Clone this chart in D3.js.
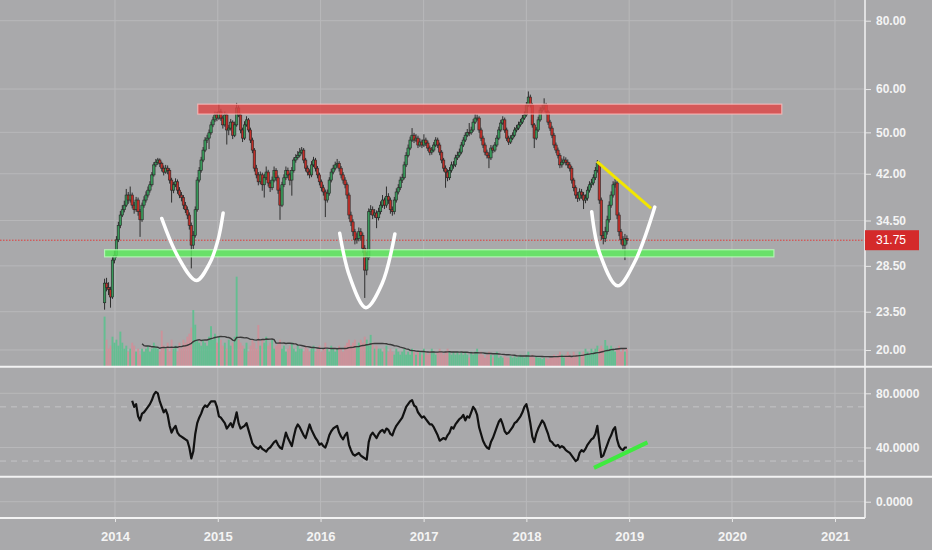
<!DOCTYPE html>
<html>
<head>
<meta charset="utf-8">
<script src="https://cdn.jsdelivr.net/npm/d3@7"></script>
<style>
  body { margin: 0; background: #a9a9ab; }
  svg { display: block; }
  text { font-family: "Liberation Sans", Arial, sans-serif; }
</style>
</head>
<body>
<div id="chart"></div>
<script>
var width = 932, height = 550;

// weekly bars, first one on this monday
var firstWeek = '2013-11-25';
var firstOpen = 24.4;

var closes = [
  26.5, 26.0, 25.8, 25.0, 29.2, 29.8, 31.8, 33.8, 35.3, 36.1,
  36.8, 38.4, 37.6, 38.4, 36.8, 36.1, 37.6, 35.8, 34.6, 36.8,
  37.6, 38.4, 39.2, 40.1, 41.8, 43.6, 44.1, 44.5, 43.9, 43.0,
  42.3, 43.0, 42.6, 40.9, 39.2, 40.1, 40.6, 39.2, 38.4, 38.0,
  36.8, 36.1, 35.3, 33.8, 31.1, 32.4, 36.1, 40.9, 42.6, 44.5,
  46.4, 48.4, 48.8, 49.9, 51.6, 52.7, 53.8, 53.1, 54.5, 53.1,
  51.6, 53.8, 50.5, 50.9, 52.2, 49.4, 51.6, 55.4, 53.8, 50.5,
  48.8, 51.6, 52.7, 50.5, 48.4, 46.4, 43.0, 41.8, 40.6, 41.8,
  40.1, 41.3, 42.3, 40.4, 39.6, 40.9, 42.6, 41.3, 39.2, 36.8,
  40.1, 41.3, 42.6, 41.8, 40.9, 42.6, 44.5, 45.0, 45.4, 46.0,
  46.4, 44.5, 43.0, 42.3, 41.8, 43.6, 44.5, 43.0, 41.8, 40.6,
  39.6, 38.9, 37.6, 38.7, 40.9, 42.3, 43.0, 43.6, 43.9, 43.0,
  41.8, 40.9, 40.1, 38.4, 35.3, 34.3, 32.9, 31.8, 32.0, 32.9,
  32.4, 30.7, 28.0, 29.5, 35.8, 36.1, 35.3, 35.6, 34.9, 35.8,
  36.8, 37.6, 36.8, 38.2, 37.6, 36.1, 35.8, 37.6, 38.9, 39.6,
  40.9, 41.3, 43.6, 45.4, 46.8, 48.4, 49.4, 48.4, 48.8, 47.4,
  48.0, 47.4, 48.4, 47.8, 46.8, 46.0, 46.4, 47.4, 48.4, 47.4,
  46.0, 44.5, 43.0, 42.3, 41.3, 42.6, 43.6, 43.6, 44.9, 45.4,
  46.0, 47.4, 48.4, 49.4, 50.0, 49.9, 50.5, 52.2, 53.1, 53.1,
  50.5, 48.8, 47.4, 46.0, 45.4, 44.9, 46.8, 46.4, 47.4, 48.8,
  50.5, 52.0, 52.7, 50.5, 48.8, 48.0, 48.8, 49.4, 50.5, 50.9,
  51.6, 52.2, 53.1, 53.8, 56.1, 58.0, 56.1, 51.6, 48.8, 50.5,
  52.7, 54.9, 55.4, 56.1, 54.5, 52.2, 50.9, 49.4, 47.4, 46.4,
  45.4, 43.6, 44.1, 44.5, 44.1, 43.6, 43.0, 40.9, 39.6, 38.4,
  37.9, 38.9, 38.4, 37.6, 37.9, 39.2, 40.1, 40.4, 41.3, 42.6,
  43.9, 37.6, 32.4, 32.0, 32.9, 34.6, 36.8, 38.4, 40.1, 40.4,
  35.3, 32.9, 31.8, 31.1, 32.0, 31.75
];

var highs = [
  27.0, 27.1, 26.6, 26.1, 29.6, 30.4, 32.3, 34.3, 35.9, 36.8,
  37.5, 39.4, 38.9, 39.8, 38.8, 37.3, 38.1, 38.0, 36.2, 37.2,
  38.2, 39.0, 39.8, 40.7, 42.3, 44.1, 44.7, 44.9, 44.8, 44.2,
  43.5, 43.6, 43.5, 43.0, 41.3, 40.6, 41.2, 41.0, 39.7, 38.9,
  38.4, 37.3, 36.6, 35.7, 34.2, 33.0, 36.6, 41.4, 43.2, 45.1,
  47.0, 49.0, 49.5, 50.6, 52.3, 53.4, 54.6, 54.5, 56.3, 55.2,
  53.6, 54.6, 54.2, 51.6, 52.9, 52.6, 52.3, 56.6, 56.0, 54.2,
  51.0, 52.4, 53.5, 53.1, 51.0, 48.9, 46.8, 43.6, 42.3, 42.4,
  42.2, 42.0, 43.3, 42.7, 40.9, 41.5, 43.3, 43.0, 41.7, 39.6,
  40.6, 41.9, 43.3, 43.1, 42.2, 43.2, 45.0, 45.6, 46.2, 46.8,
  47.0, 46.8, 44.9, 43.5, 42.8, 44.3, 45.1, 44.9, 43.4, 42.2,
  41.0, 40.1, 39.3, 39.3, 41.4, 42.9, 43.6, 44.2, 44.7, 44.3,
  43.4, 42.3, 41.4, 40.5, 38.8, 35.8, 34.7, 33.3, 32.7, 33.5,
  33.4, 32.8, 31.1, 30.2, 36.3, 36.8, 36.6, 36.2, 36.0, 36.4,
  37.4, 38.4, 38.0, 39.8, 38.7, 38.0, 36.6, 38.1, 39.5, 40.2,
  41.5, 42.0, 44.2, 46.0, 47.5, 49.1, 50.9, 49.9, 49.6, 49.3,
  48.7, 48.5, 49.6, 48.9, 48.3, 47.3, 47.0, 48.0, 49.0, 48.9,
  47.9, 46.4, 44.9, 43.5, 42.8, 43.2, 44.2, 44.3, 45.5, 46.1,
  46.7, 48.0, 49.0, 50.0, 50.7, 52.0, 51.2, 52.9, 54.0, 53.9,
  53.5, 51.0, 49.3, 47.9, 46.5, 45.9, 47.4, 47.3, 48.0, 49.4,
  51.2, 52.7, 53.5, 53.2, 51.0, 49.3, 49.4, 50.0, 51.1, 51.6,
  52.3, 52.9, 53.8, 54.6, 56.8, 59.4, 58.6, 56.6, 52.0, 51.1,
  53.4, 55.6, 56.2, 57.7, 56.6, 54.9, 52.7, 51.4, 49.9, 47.9,
  46.9, 45.8, 44.8, 45.2, 45.0, 44.6, 44.1, 43.4, 41.3, 40.0,
  38.9, 39.5, 39.4, 38.9, 38.5, 39.8, 40.7, 41.1, 41.9, 43.2,
  44.5, 44.2, 38.0, 33.0, 33.6, 35.2, 37.4, 39.0, 40.7, 41.1,
  40.8, 35.7, 33.3, 32.3, 32.6, 32.4
];

var lows = [
  23.7, 25.6, 25.2, 23.9, 24.8, 28.8, 29.5, 31.5, 33.4, 35.0,
  35.7, 36.5, 37.0, 37.2, 36.3, 35.5, 35.8, 35.2, 32.2, 34.3,
  36.4, 37.2, 38.0, 38.8, 39.8, 41.5, 43.2, 43.6, 43.2, 42.4,
  41.7, 42.0, 41.9, 40.3, 37.2, 38.7, 39.7, 38.6, 37.9, 37.4,
  36.2, 35.6, 34.7, 33.2, 28.2, 30.6, 32.1, 35.8, 40.5, 42.2,
  44.1, 46.0, 47.8, 46.6, 49.5, 51.1, 52.2, 52.4, 52.7, 52.5,
  50.8, 51.2, 47.5, 49.4, 50.4, 48.6, 49.0, 51.2, 53.3, 49.8,
  48.0, 48.4, 51.2, 50.0, 47.8, 45.8, 42.4, 41.2, 40.0, 40.2,
  39.1, 38.0, 40.9, 39.8, 38.9, 39.2, 40.5, 40.7, 38.6, 34.6,
  36.5, 39.7, 40.9, 41.2, 40.0, 38.3, 42.2, 44.0, 44.6, 45.0,
  45.6, 43.9, 42.4, 41.7, 41.2, 41.4, 43.2, 42.4, 41.2, 40.0,
  39.0, 38.3, 35.0, 37.2, 38.3, 40.5, 41.9, 42.6, 43.1, 42.4,
  41.2, 40.3, 39.5, 37.8, 34.7, 33.7, 32.3, 31.2, 31.3, 31.6,
  31.7, 30.1, 24.9, 27.4, 29.2, 35.3, 34.7, 34.9, 33.4, 34.5,
  35.4, 36.4, 36.2, 36.4, 37.0, 35.5, 35.2, 35.4, 37.2, 38.5,
  39.2, 40.4, 41.0, 43.2, 45.0, 46.4, 48.0, 47.8, 48.0, 46.8,
  47.0, 46.8, 47.0, 47.2, 46.2, 45.4, 45.5, 46.0, 47.0, 46.8,
  45.4, 43.9, 42.4, 39.6, 40.7, 40.9, 42.2, 42.9, 43.2, 44.5,
  45.0, 45.6, 47.0, 48.0, 49.0, 49.2, 49.5, 50.1, 51.8, 52.5,
  49.9, 48.2, 46.8, 45.4, 44.8, 43.0, 44.5, 45.8, 46.0, 47.0,
  48.4, 50.1, 51.6, 49.9, 48.2, 47.4, 47.6, 48.4, 49.0, 50.0,
  50.5, 51.2, 51.8, 52.7, 53.4, 55.7, 55.5, 51.0, 46.8, 48.4,
  50.1, 52.3, 54.4, 55.0, 53.9, 51.6, 50.3, 48.8, 46.8, 45.8,
  44.8, 43.0, 43.1, 43.7, 43.5, 43.0, 42.4, 40.3, 39.0, 37.8,
  37.3, 37.5, 37.8, 36.2, 37.1, 37.5, 38.8, 39.6, 40.0, 40.9,
  42.2, 37.0, 31.8, 31.2, 31.5, 32.5, 34.2, 36.4, 38.0, 39.6,
  34.7, 32.3, 31.2, 30.5, 29.2, 31.2
];

// weekly volume, millions
var volumes = [
  16.7, 9, 6, 7, 10, 8, 9, 7, 11.7, 8, 6, 7, 5, 6, 8, 7, 5, 6, 4, 6,
  5, 6, 7, 5, 6, 8, 7, 6, 5, 12, 7, 6, 8, 5, 9, 6, 7, 5, 8, 6,
  9, 8, 10, 11, 13, 18.9, 14, 9, 8, 7, 9, 8, 7, 10, 13.5, 9, 11, 8, 10, 9,
  7, 8, 6, 9, 7, 8, 10, 30, 9, 8, 7, 6, 8, 5, 7, 9, 8, 6, 13.9, 7,
  9, 8, 10, 7, 8, 9, 6, 7, 8, 9, 6, 7, 5, 6, 7, 8, 6, 5, 7, 6,
  6, 5, 7, 6, 5, 6, 7, 5, 6, 7, 5, 6, 8, 6, 5, 7, 6, 5, 6, 7,
  6, 5, 7, 8, 9, 7, 8, 9, 7, 8, 9, 8, 10, 9, 7, 10.6, 8, 6, 7, 6,
  6, 5, 6, 7, 5, 6, 5, 4, 6, 5, 4, 5, 6, 4, 5, 4, 6, 5, 4, 5,
  5, 4, 6, 5, 4, 5, 6, 5, 4, 5, 6, 5, 4, 5, 6, 5, 4, 5, 4, 5,
  4, 5, 4, 5, 4, 3, 5, 4, 5, 6, 4, 5, 4, 3, 4, 5, 4, 3, 4, 5,
  3, 3.5, 3, 3.5, 3, 3, 3.5, 3, 3.5, 3, 3.5, 4, 3.5, 3, 4, 5, 3.5, 4, 3, 3.5,
  3, 3, 2.5, 3, 3, 2.5, 3, 3, 4, 3, 4, 5, 4, 3, 4, 5, 4, 3, 5, 4,
  4, 5, 4, 5, 6, 5, 4, 6, 5, 6, 7, 6, 7, 6, 8.9, 7, 6, 7, 6, 5, 6, 7, 5, 6, 5, 6
];

var rsiStart = 14;
var rsiValues = [
  74.5, 70, 72, 63, 60, 65, 66, 68, 70, 72,
  75, 79, 81, 80, 74, 70, 66, 68, 64, 56,
  51, 54, 56, 51, 49, 48, 47, 46, 45, 40,
  32, 37, 50, 58, 62, 65, 69, 71, 70, 72,
  74, 74, 74, 70, 63, 62, 60, 58, 54, 56,
  58, 55, 60, 66, 58, 54, 55, 56, 58, 53,
  48, 43, 41, 40, 39, 41, 39, 38, 37, 39,
  40, 42, 44, 45, 42, 40, 39, 45, 51, 47,
  44, 41, 48, 54, 57, 55, 52, 49, 47, 52,
  57, 53, 50, 47, 45, 42, 43, 41, 40, 44,
  49, 52, 54, 55, 56, 51, 48, 46, 49, 51,
  42, 38, 35, 34, 35, 36, 34, 33, 32, 31,
  44, 49, 51, 49, 47, 50, 52, 53, 51, 54,
  53, 50, 49, 53, 56, 58, 60, 62, 66, 70,
  72, 74, 75, 71, 70, 66, 64, 62, 63, 61,
  59, 57, 57, 55, 52, 49, 45, 46, 47, 46,
  49, 51, 55, 54, 57, 59, 61, 62, 64, 60,
  63, 62, 66, 70, 68, 64, 55, 50, 45, 42,
  40, 39, 44, 47, 51, 55, 59, 61, 57, 52,
  50, 51, 53, 55, 58, 59, 61, 63, 66, 70,
  72, 66, 58, 48, 44, 50, 54, 57, 60, 58,
  54, 50, 45, 44, 42, 41, 42, 40, 41, 40,
  38, 37, 36, 34, 32, 30, 31, 36, 38, 37,
  39, 42, 44, 46, 47, 50, 56, 44, 33, 34,
  38, 42, 46, 49, 53, 55, 46, 41, 39, 38,
  40, 40
];

var priceTicks = [20, 23.5, 28.5, 34.5, 42, 50, 60, 80];
var rsiTicks = [0, 40, 80];
var rsiBands = [30, 70];
var years = [2014, 2015, 2016, 2017, 2018, 2019, 2020, 2021];
var lastPrice = 31.75;

// drawn annotations: [date, price]
var resistance = [['2014-10-22', 56.3], ['2020-06-26', 54.0]];
var support = [['2013-11-25', 30.5], ['2020-05-29', 29.6]];
var cup1 = [['2014-06-16', 34.8], ['2014-08-13', 29.6], ['2014-10-17', 26.8], ['2014-12-03', 28.8], ['2015-01-02', 31.8], ['2015-01-20', 35.6]];
var cup2 = [['2016-03-09', 32.7], ['2016-04-14', 27.2], ['2016-06-10', 23.9], ['2016-08-06', 26.4], ['2016-09-21', 32.6]];
var cup3 = [['2018-08-21', 35.8], ['2018-09-18', 30.1], ['2018-11-21', 26.2], ['2019-01-21', 29.0], ['2019-04-02', 36.5]];
var trendLine = [['2018-09-09', 44.2], ['2019-03-20', 36.3]];
var rsiTrend = [['2018-08-29', 25.0], ['2019-03-07', 43.75]];

var parseDate = d3.utcParse('%Y-%m-%d');
var start = parseDate(firstWeek);

var bars = closes.map(function(c, i) {
  return {
    date: d3.utcDay.offset(start, 7 * i),
    open: i === 0 ? firstOpen : closes[i - 1],
    high: highs[i],
    low: lows[i],
    close: c,
    volume: volumes[i]
  };
});

// 20 week volume average
var volAvg = [];
bars.forEach(function(b, i) {
  if (i < 19) return;
  volAvg.push({ date: b.date, value: d3.mean(bars.slice(i - 19, i + 1), function(d) { return d.volume; }) });
});

var rsi = rsiValues.map(function(v, i) {
  return { date: bars[rsiStart + i].date, value: v };
});

var axisX = 865, paneBottom = 366.7, rsiBottom = 476.7, axisBottom = 518;
var gridColor = '#b8b8ba', lineWhite = '#f3f3f3', labelColor = '#f4f4f4';

var x = d3.scaleUtc()
    .domain([Date.UTC(2014, 0, 1), Date.UTC(2021, 0, 1)])
    .range([115, 835]);
var y = d3.scaleLog().domain([20, 80]).range([350, 20.7]);
var yVol = d3.scaleLinear().domain([0, 30]).range([paneBottom, 276.7]);
var yRsi = d3.scaleLinear().domain([0, 80]).range([501.7, 393.3]);

var svg = d3.select('#chart').append('svg')
    .attr('width', width)
    .attr('height', height);

svg.append('rect').attr('width', width).attr('height', height).attr('fill', '#a9a9ab');

svg.append('clipPath').attr('id', 'plot')
  .append('rect').attr('x', 0).attr('y', 0).attr('width', axisX).attr('height', paneBottom);

// grid
svg.append('g').selectAll('line').data(years).join('line')
    .attr('x1', function(d) { return x(Date.UTC(d, 0, 1)); })
    .attr('x2', function(d) { return x(Date.UTC(d, 0, 1)); })
    .attr('y1', 0).attr('y2', axisBottom)
    .attr('stroke', gridColor).attr('stroke-width', 1);

svg.append('g').selectAll('line').data(priceTicks).join('line')
    .attr('x1', 0).attr('x2', axisX)
    .attr('y1', function(d) { return y(d); }).attr('y2', function(d) { return y(d); })
    .attr('stroke', gridColor).attr('stroke-width', 1);

svg.append('g').selectAll('line').data(rsiTicks).join('line')
    .attr('x1', 0).attr('x2', axisX)
    .attr('y1', function(d) { return yRsi(d); }).attr('y2', function(d) { return yRsi(d); })
    .attr('stroke', gridColor).attr('stroke-width', 1);

svg.append('g').selectAll('line').data(rsiBands).join('line')
    .attr('x1', 0).attr('x2', axisX)
    .attr('y1', function(d) { return yRsi(d); }).attr('y2', function(d) { return yRsi(d); })
    .attr('stroke', '#c4c4c6').attr('stroke-width', 1).attr('stroke-dasharray', '6,5');

var plot = svg.append('g').attr('clip-path', 'url(#plot)');

// volume
plot.append('g').selectAll('rect').data(bars).join('rect')
    .attr('x', function(d) { return x(d.date) - 0.95; })
    .attr('width', 1.9)
    .attr('y', function(d) { return yVol(d.volume); })
    .attr('height', function(d) { return paneBottom - yVol(d.volume); })
    .attr('fill', function(d) { return d.close >= d.open ? '#5cc08e' : '#cf8f98'; })
    .attr('opacity', 0.9);

plot.append('path')
    .datum(volAvg)
    .attr('fill', 'none')
    .attr('stroke', '#3a3a3a')
    .attr('stroke-width', 1.4)
    .attr('d', d3.line().x(function(d) { return x(d.date); }).y(function(d) { return yVol(d.value); }));

// last price line
plot.append('line')
    .attr('x1', 0).attr('x2', axisX)
    .attr('y1', y(lastPrice)).attr('y2', y(lastPrice))
    .attr('stroke', '#e23b3b').attr('stroke-width', 1).attr('stroke-dasharray', '1.5,1.5');

// candles
var candle = plot.append('g').selectAll('g').data(bars).join('g');
candle.append('line')
    .attr('x1', function(d) { return x(d.date); })
    .attr('x2', function(d) { return x(d.date); })
    .attr('y1', function(d) { return y(d.high); })
    .attr('y2', function(d) { return y(d.low); })
    .attr('stroke', '#2e2e2e').attr('stroke-width', 1);
candle.append('rect')
    .attr('x', function(d) { return x(d.date) - 1.2; })
    .attr('width', 2.4)
    .attr('y', function(d) { return y(Math.max(d.open, d.close)); })
    .attr('height', function(d) { return Math.max(1, Math.abs(y(d.open) - y(d.close))); })
    .attr('fill', function(d) { return d.close >= d.open ? '#38985a' : '#c22f29'; })
    .attr('stroke', '#262626').attr('stroke-width', 0.6);

// zones
function zone(pts, fill, stroke) {
  var d0 = parseDate(pts[0][0]), d1 = parseDate(pts[1][0]);
  plot.append('rect')
      .attr('x', x(d0)).attr('width', x(d1) - x(d0))
      .attr('y', y(pts[0][1])).attr('height', y(pts[1][1]) - y(pts[0][1]))
      .attr('fill', fill).attr('stroke', stroke).attr('stroke-width', 1.2);
}
zone(resistance, 'rgba(222, 70, 70, 0.82)', 'rgba(255, 190, 190, 0.8)');
zone(support, 'rgba(90, 235, 90, 0.82)', 'rgba(190, 255, 190, 0.8)');

var priceLine = d3.line()
    .x(function(d) { return x(parseDate(d[0])); })
    .y(function(d) { return y(d[1]); });

[cup1, cup2, cup3].forEach(function(c) {
  svg.append('path').datum(c)
      .attr('fill', 'none').attr('stroke', '#ffffff').attr('stroke-width', 3.5)
      .attr('stroke-linecap', 'round')
      .attr('d', priceLine.curve(d3.curveCatmullRom.alpha(0.5)));
});

svg.append('path').datum(trendLine)
    .attr('fill', 'none').attr('stroke', '#f2e600').attr('stroke-width', 3)
    .attr('d', priceLine.curve(d3.curveLinear));

// rsi
var rsiLine = d3.line()
    .x(function(d) { return x(d.date); })
    .y(function(d) { return yRsi(d.value); });
svg.append('path').datum(rsi)
    .attr('fill', 'none').attr('stroke', '#111').attr('stroke-width', 2.2)
    .attr('stroke-linejoin', 'round')
    .attr('d', rsiLine);

svg.append('path').datum(rsiTrend)
    .attr('fill', 'none').attr('stroke', '#3fea3f').attr('stroke-width', 4)
    .attr('d', d3.line()
      .x(function(d) { return x(parseDate(d[0])); })
      .y(function(d) { return yRsi(d[1]); }));

// frame lines
svg.append('line').attr('x1', 0).attr('x2', width).attr('y1', paneBottom).attr('y2', paneBottom)
    .attr('stroke', lineWhite).attr('stroke-width', 2);
svg.append('line').attr('x1', 0).attr('x2', width).attr('y1', rsiBottom).attr('y2', rsiBottom)
    .attr('stroke', lineWhite).attr('stroke-width', 2);
svg.append('line').attr('x1', 0).attr('x2', axisX).attr('y1', axisBottom).attr('y2', axisBottom)
    .attr('stroke', lineWhite).attr('stroke-width', 2);
svg.append('line').attr('x1', axisX).attr('x2', axisX).attr('y1', 0).attr('y2', axisBottom)
    .attr('stroke', lineWhite).attr('stroke-width', 1.5);

// axes
function styleAxis(g, size) {
  g.select('.domain').remove();
  g.selectAll('.tick line').attr('stroke', '#e8e8e8');
  g.selectAll('.tick text')
      .attr('fill', labelColor)
      .style('font-size', size + 'px')
      .style('font-weight', 'bold')
      .style('font-family', '"Liberation Sans", Arial, sans-serif');
}

svg.append('g')
    .attr('transform', 'translate(' + axisX + ',0)')
    .call(d3.axisRight(y).tickValues(priceTicks).tickFormat(d3.format('.2f')).tickSize(6).tickPadding(5))
    .call(styleAxis, 12);

svg.append('g')
    .attr('transform', 'translate(' + axisX + ',0)')
    .call(d3.axisRight(yRsi).tickValues(rsiTicks).tickFormat(d3.format('.4f')).tickSize(6).tickPadding(5))
    .call(styleAxis, 12);

svg.append('g')
    .attr('transform', 'translate(0,' + axisBottom + ')')
    .call(d3.axisBottom(x)
      .tickValues(years.map(function(d) { return new Date(Date.UTC(d, 0, 1)); }))
      .tickFormat(d3.utcFormat('%Y')).tickSize(4).tickPadding(10))
    .call(styleAxis, 13);

// last price tag
svg.append('rect')
    .attr('x', axisX).attr('y', y(lastPrice) - 10)
    .attr('width', 54).attr('height', 20)
    .attr('fill', '#d42a2a');
svg.append('text')
    .attr('x', axisX + 11).attr('y', y(lastPrice)).attr('dy', '0.35em')
    .attr('fill', '#ffffff').style('font-size', '12px')
    .text(d3.format('.2f')(lastPrice));
</script>
</body>
</html>
